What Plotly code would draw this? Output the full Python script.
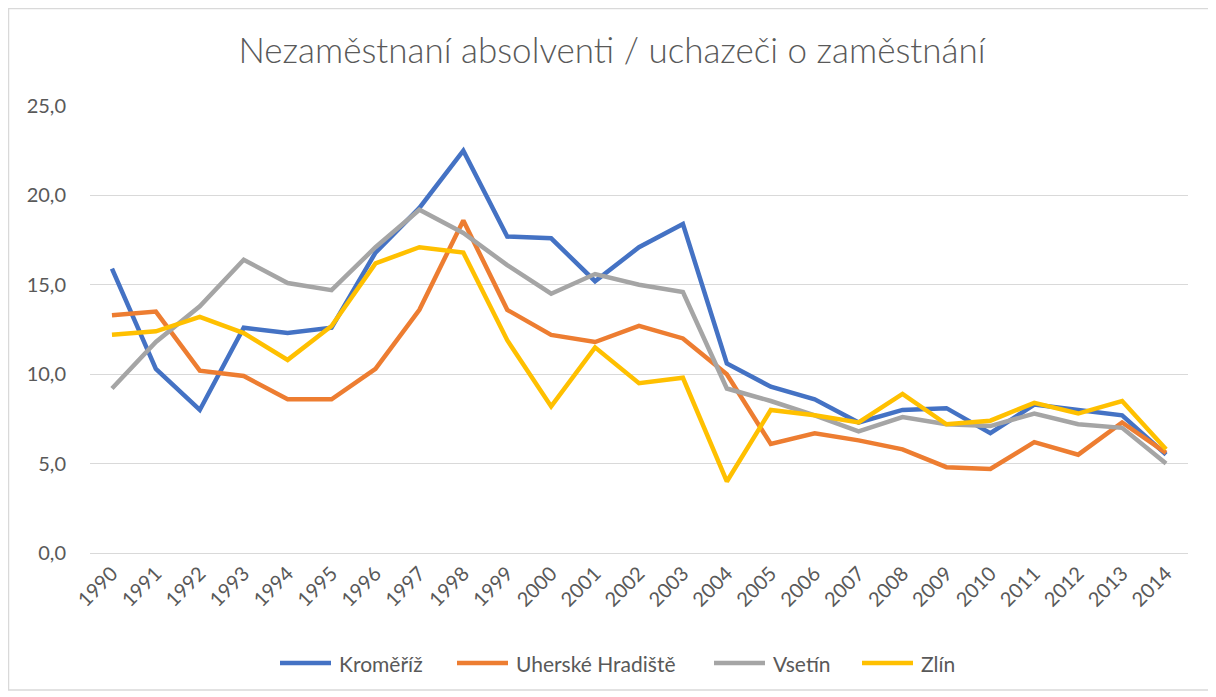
import plotly.graph_objects as go

years = [str(y) for y in range(1990, 2015)]
kromeriz = [15.9, 10.3, 8.0, 12.6, 12.3, 12.6, 16.8, 19.3, 22.5, 17.7, 17.6, 15.2, 17.1, 18.4,
            10.6, 9.3, 8.6, 7.3, 8.0, 8.1, 6.7, 8.3, 8.0, 7.7, 5.5]
uh_hradiste = [13.3, 13.5, 10.2, 9.9, 8.6, 8.6, 10.3, 13.6, 18.6, 13.6, 12.2, 11.8, 12.7, 12.0,
               10.0, 6.1, 6.7, 6.3, 5.8, 4.8, 4.7, 6.2, 5.5, 7.3, 5.6]
vsetin = [9.2, 11.8, 13.8, 16.4, 15.1, 14.7, 17.1, 19.2, 17.9, 16.1, 14.5, 15.6, 15.0, 14.6,
          9.2, 8.5, 7.7, 6.8, 7.6, 7.2, 7.1, 7.8, 7.2, 7.0, 5.0]
zlin = [12.2, 12.4, 13.2, 12.3, 10.8, 12.7, 16.2, 17.1, 16.8, 11.9, 8.2, 11.5, 9.5, 9.8,
        4.0, 8.0, 7.7, 7.3, 8.9, 7.2, 7.4, 8.4, 7.8, 8.5, 5.8]

series_names = ["Kroměříž", "Uherské Hradiště", "Vsetín", "Zlín"]
series_values = [kromeriz, uh_hradiste, vsetin, zlin]
colors = ["#4472C4", "#ED7D31", "#A5A5A5", "#FFC000"]

FONT = "Lato"
TXT = "#595959"

fig = go.Figure()
for name, vals, col in zip(series_names, series_values, colors):
    fig.add_trace(go.Scatter(x=years, y=vals, name=name, mode="lines",
                             line=dict(color=col, width=4.5), showlegend=False))

# page has an 8px body margin; work in page pixel coordinates and convert
OFF = 8
W, H = 1216 - OFF, 697 - OFF
L, R, T, B = 82, 28, 98, 144
pw, ph = W - L - R, H - T - B

def px_x(x):
    return (x - OFF - L) / pw

def px_y(y):
    return (H - B - (y - OFF)) / ph

fig.update_layout(
    width=W, height=H,
    margin=dict(l=L, r=R, t=T, b=B),
    paper_bgcolor="white", plot_bgcolor="white",
    separators=", ",
    font=dict(family=FONT, color=TXT, size=20),
    title=dict(text="Nezaměstnaní absolventi / uchazeči o zaměstnání",
               x=0.5, xanchor="center", y=1 - (51 - OFF) / H, yanchor="middle",
               font=dict(family=FONT, size=35, color=TXT, weight=300)),
    xaxis=dict(type="category", range=[-0.5, 24.5], tickangle=-45,
               showgrid=False, showline=True, linecolor="#D9D9D9", linewidth=1,
               ticks="", tickfont=dict(size=20, color=TXT, family=FONT)),
    yaxis=dict(range=[0, 25], dtick=5, tickformat=".1f", showgrid=True,
               gridcolor="#D9D9D9", gridwidth=1, zeroline=False, showline=False,
               ticks="", ticklabelstandoff=23,
               tickfont=dict(size=20, color=TXT, family=FONT)),
    showlegend=False,
)

# chart-area border
fig.add_shape(type="rect", xref="paper", yref="paper",
              x0=px_x(8.5), x1=px_x(1210), y0=px_y(690), y1=px_y(8.5),
              line=dict(color="#D9D9D9", width=1.5), fillcolor="rgba(0,0,0,0)",
              layer="below")

# legend (Excel style: long line samples)
legend_line_starts = [278, 455, 712, 860]
LEG_Y = 663
LINE_LEN = 55
for name, col, x0 in zip(series_names, colors, legend_line_starts):
    fig.add_shape(type="line", xref="paper", yref="paper",
                  x0=px_x(x0 + 2), x1=px_x(x0 + LINE_LEN - 2),
                  y0=px_y(LEG_Y), y1=px_y(LEG_Y),
                  line=dict(color=col, width=4.5))
    fig.add_annotation(text=name, xref="paper", yref="paper",
                       x=px_x(x0 + LINE_LEN + 4), y=px_y(LEG_Y),
                       xanchor="left", yanchor="middle", showarrow=False,
                       font=dict(size=21, color=TXT, family=FONT))

fig.write_html("out.html")
